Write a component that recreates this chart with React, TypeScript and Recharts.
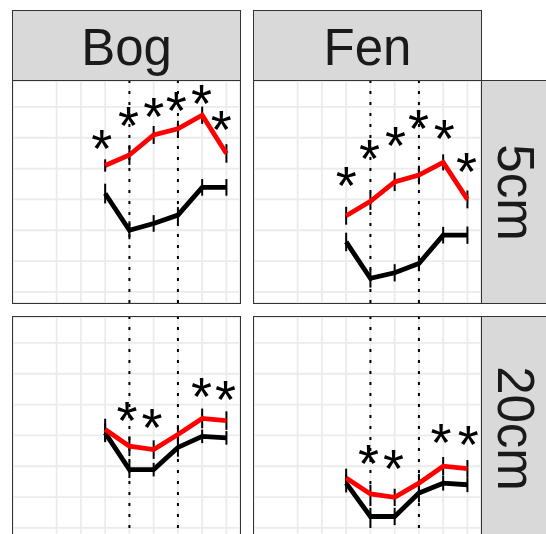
import {
  ComposedChart,
  Line,
  Scatter,
  XAxis,
  YAxis,
  CartesianGrid,
  ReferenceLine,
  ErrorBar,
} from 'recharts';

// sampling times (shared by every panel)
const timePoints = [1, 2, 3, 4, 5, 6];
const dottedAt = [2, 4];
const xGridTicks = [-2.25, -1.625, -1, -0.5, 0, 0.5, 1, 1.5, 2, 2.5, 3, 3.5, 4, 4.5, 5, 5.5, 6];
const yGridTicks = [0, 1, 2, 3, 4, 5, 6];

const columns = ['Bog', 'Fen'];
const rowLabels = ['5cm', '20cm'];

// Bog 5cm
const bog5Red = [4.1, 4.44, 5.09, 5.29, 5.73, 4.49];
const bog5RedErr = [0.2, 0.32, 0.29, 0.26, 0.28, 0.3];
const bog5Black = [3.19, 2.0, 2.22, 2.49, 3.39, 3.39];
const bog5BlackErr = [0.32, 0.29, 0.27, 0.26, 0.27, 0.27];
const bog5StarX = [0.86, 1.96, 3.0, 3.93, 4.97, 5.79];
const bog5StarY = [5.03, 5.79, 6.06, 6.25, 6.5, 5.66];

// Fen 5cm
const fen5Red = [2.47, 2.94, 3.57, 3.79, 4.2, 3.0];
const fen5RedErr = [0.29, 0.28, 0.3, 0.3, 0.26, 0.29];
const fen5Black = [1.62, 0.44, 0.62, 0.92, 1.84, 1.84];
const fen5BlackErr = [0.3, 0.3, 0.28, 0.25, 0.27, 0.28];
const fen5StarX = [1.0, 1.96, 3.03, 3.98, 5.05, 5.96];
const fen5StarY = [3.84, 4.71, 5.14, 5.68, 5.36, 4.3];

// Bog 20cm
const bog20Red = [3.19, 2.65, 2.54, 3.03, 3.55, 3.48];
const bog20RedErr = [0.35, 0.32, 0.3, 0.3, 0.32, 0.3];
const bog20Black = [3.08, 1.89, 1.89, 2.61, 2.97, 2.92];
const bog20BlackErr = [0.3, 0.27, 0.22, 0.3, 0.22, 0.22];
const bog20StarX = [1.9, 2.93, 4.97, 5.96];
const bog20StarY = [3.87, 3.65, 4.65, 4.56];

// Fen 20cm
const fen20Red = [1.62, 1.1, 0.99, 1.45, 2.0, 1.92];
const fen20RedErr = [0.3, 0.3, 0.28, 0.3, 0.3, 0.28];
const fen20Black = [1.45, 0.37, 0.37, 1.13, 1.45, 1.4];
const fen20BlackErr = [0.3, 0.28, 0.28, 0.3, 0.24, 0.24];
const fen20StarX = [1.92, 2.95, 4.91, 6.03];
const fen20StarY = [2.48, 2.32, 3.16, 3.08];

const FONT = '"Liberation Sans", Arial, Helvetica, sans-serif';
const STAR_SIZE = 54;
const PANEL_W = 227;
const PANEL_H = 222;
const colLeft = [13, 254];
const rowTop = [81, 317];

const Star = (props: any) => (
  <text
    x={props.cx}
    y={props.cy + 0.56 * STAR_SIZE}
    textAnchor="middle"
    fontSize={STAR_SIZE}
    fontFamily={FONT}
    fill="#000"
  >
    *
  </text>
);

interface PanelProps {
  left: number;
  top: number;
  red: number[];
  redErr: number[];
  black: number[];
  blackErr: number[];
  starX: number[];
  starY: number[];
}

const Panel = ({ left, top, red, redErr, black, blackErr, starX, starY }: PanelProps) => {
  const rows = timePoints.map((x, i) => ({
    x,
    red: red[i],
    redErr: redErr[i],
    black: black[i],
    blackErr: blackErr[i],
  }));
  const stars = starX.map((x, i) => ({ x, y: starY[i] }));

  return (
    <div style={{ position: 'absolute', left, top, width: PANEL_W, height: PANEL_H, background: '#fff' }}>
      <ComposedChart
        width={PANEL_W}
        height={PANEL_H}
        data={rows}
        margin={{ top: 0, right: 0, bottom: 0, left: 0 }}
      >
        <XAxis type="number" dataKey="x" domain={[-2.8, 6.56]} ticks={xGridTicks} hide allowDataOverflow />
        <YAxis type="number" domain={[-0.36, 6.84]} ticks={yGridTicks} hide allowDataOverflow />
        <CartesianGrid stroke="#EBEBEB" strokeWidth={1.8} />
        {dottedAt.map((x) => (
          <ReferenceLine key={x} x={x} stroke="#000" strokeWidth={2} strokeDasharray="3 8" />
        ))}
        <Line
          type="linear"
          dataKey="black"
          stroke="#000"
          strokeWidth={4.8}
          dot={false}
          isAnimationActive={false}
        >
          <ErrorBar dataKey="blackErr" width={0} stroke="#000" strokeWidth={2} direction="y" />
        </Line>
        <Line
          type="linear"
          dataKey="red"
          stroke="#FF0000"
          strokeWidth={4.8}
          dot={false}
          isAnimationActive={false}
        >
          <ErrorBar dataKey="redErr" width={0} stroke="#000" strokeWidth={2} direction="y" />
        </Line>
        <Scatter data={stars} dataKey="y" shape={Star} isAnimationActive={false} />
      </ComposedChart>
      {/* panel border on top, like ggplot */}
      <div
        style={{
          position: 'absolute',
          left: -1,
          top: -1,
          width: PANEL_W + 2,
          height: PANEL_H + 2,
          border: '1.6px solid #333',
          boxSizing: 'border-box',
          pointerEvents: 'none',
        }}
      />
    </div>
  );
};

const stripBase = {
  position: 'absolute' as const,
  background: '#D9D9D9',
  border: '1.6px solid #333',
  boxSizing: 'border-box' as const,
  display: 'flex',
  alignItems: 'center',
  justifyContent: 'center',
  fontFamily: FONT,
  fontSize: 51,
  color: '#1A1A1A',
  overflow: 'hidden',
};

const App = () => {
  return (
    <div
      style={{
        position: 'absolute',
        left: 0,
        top: 0,
        width: 546,
        height: 534,
        overflow: 'hidden',
        background: '#fff',
      }}
    >
      {columns.map((c, i) => (
        <div
          key={c}
          style={{ ...stripBase, left: colLeft[i] - 1, top: 9.5, width: PANEL_W + 2, height: 72, paddingTop: 3 }}
        >
          {c}
        </div>
      ))}
      {rowLabels.map((r, j) => (
        <div
          key={r}
          style={{ ...stripBase, left: 480, top: rowTop[j] - 1, width: 70, height: PANEL_H + 2 }}
        >
          <span style={{ display: 'inline-block', transform: 'rotate(90deg)', whiteSpace: 'nowrap' }}>{r}</span>
        </div>
      ))}
      <Panel
        left={colLeft[0]}
        top={rowTop[0]}
        red={bog5Red}
        redErr={bog5RedErr}
        black={bog5Black}
        blackErr={bog5BlackErr}
        starX={bog5StarX}
        starY={bog5StarY}
      />
      <Panel
        left={colLeft[1]}
        top={rowTop[0]}
        red={fen5Red}
        redErr={fen5RedErr}
        black={fen5Black}
        blackErr={fen5BlackErr}
        starX={fen5StarX}
        starY={fen5StarY}
      />
      <Panel
        left={colLeft[0]}
        top={rowTop[1]}
        red={bog20Red}
        redErr={bog20RedErr}
        black={bog20Black}
        blackErr={bog20BlackErr}
        starX={bog20StarX}
        starY={bog20StarY}
      />
      <Panel
        left={colLeft[1]}
        top={rowTop[1]}
        red={fen20Red}
        redErr={fen20RedErr}
        black={fen20Black}
        blackErr={fen20BlackErr}
        starX={fen20StarX}
        starY={fen20StarY}
      />
    </div>
  );
};

export default App;
